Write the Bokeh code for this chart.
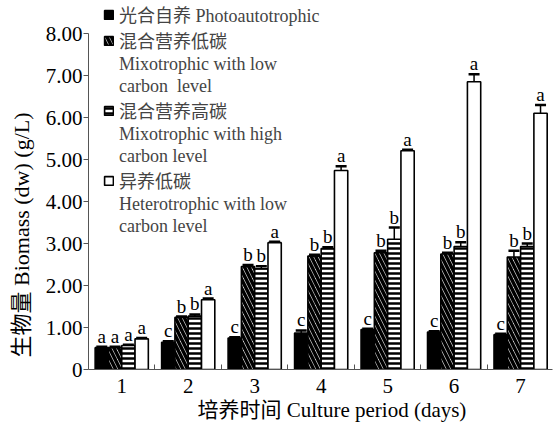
from bokeh.plotting import figure
from bokeh.models import (ColumnDataSource, FixedTicker, Whisker, TeeHead, Legend,
                          LegendItem, LabelSet, Title)
from bokeh.embed import file_html
from bokeh.resources import INLINE

days = [1, 2, 3, 4, 5, 6, 7]
day_labels = ["1", "2", "3", "4", "5", "6", "7"]

photo = [0.52, 0.65, 0.75, 0.87, 0.95, 0.89, 0.83]
photo_err = [0.02, 0.02, 0.02, 0.06, 0.02, 0.02, 0.02]
photo_sig = ["a", "c", "c", "c", "c", "c", "c"]

mixo_low = [0.52, 1.24, 2.45, 2.70, 2.78, 2.75, 2.68]
mixo_low_err = [0.02, 0.02, 0.04, 0.03, 0.05, 0.03, 0.15]
mixo_low_sig = ["a", "b", "b", "b", "b", "b", "b"]

mixo_high = [0.57, 1.27, 2.40, 2.88, 3.10, 2.93, 2.93]
mixo_high_err = [0.02, 0.04, 0.06, 0.03, 0.28, 0.10, 0.07]
mixo_high_sig = ["a", "b", "b", "b", "b", "b", "b"]

hetero = [0.73, 1.66, 3.02, 4.74, 5.21, 6.85, 6.10]
hetero_err = [0.02, 0.03, 0.02, 0.10, 0.02, 0.18, 0.20]
hetero_sig = ["a", "a", "a", "a", "a", "a", "a"]

y_ticks = [0, 1, 2, 3, 4, 5, 6, 7, 8]
y_tick_labels = ["0", "1.00", "2.00", "3.00", "4.00", "5.00", "6.00", "7.00", "8.00"]

legend_lines = [
    ["光合自养 Photoautotrophic"],
    ["混合营养低碳", "Mixotrophic with low", "carbon  level"],
    ["混合营养高碳", "Mixotrophic with high", "carbon level"],
    ["异养低碳", "Heterotrophic with low", "carbon level"],
]
x_title = "培养时间 Culture period (days)"
y_title = "生物量 Biomass (dw) (g/L)"

SERIF = "Liberation Serif, Noto Sans CJK SC"

# frame reaches the top of the canvas so the legend is not clipped;
# the value axis itself is bounded to 0..8
p = figure(width=557, height=426, output_backend="svg", toolbar_location=None,
           x_range=(0.5, 7.48), y_range=(0, 8.786),
           min_border_left=88, min_border_right=5, min_border_top=0, min_border_bottom=57)
p.outline_line_color = None
p.grid.grid_line_color = None
p.background_fill_color = "white"

series = [
    (photo, photo_err, photo_sig, -0.3, dict(fill_color="black")),
    (mixo_low, mixo_low_err, mixo_low_sig, -0.1,
     dict(fill_color="white", hatch_pattern="\\", hatch_color="black", hatch_scale=9, hatch_weight=3.5)),
    (mixo_high, mixo_high_err, mixo_high_sig, 0.1,
     dict(fill_color="white", hatch_pattern="-", hatch_color="black", hatch_scale=5, hatch_weight=2.5)),
    (hetero, hetero_err, hetero_sig, 0.3, dict(fill_color="white")),
]

bar_renderers = []
for vals, errs, sigs, off, style in series:
    src = ColumnDataSource(dict(
        x=[d + off for d in days],
        top=vals,
        upper=[v + e for v, e in zip(vals, errs)],
        lower=[v - e for v, e in zip(vals, errs)],
        sig=sigs,
    ))
    r = p.vbar(x="x", top="top", width=0.2, source=src, line_color="black", line_width=1.6, **style)
    bar_renderers.append(r)
    w = Whisker(base="x", upper="upper", lower="lower", source=src,
                line_color="black", line_width=1.5,
                upper_head=TeeHead(size=11, line_width=2.5, line_color="black"),
                lower_head=TeeHead(size=11, line_width=1.5, line_color="black"))
    p.add_layout(w)
    lbl = LabelSet(x="x", y="upper", text="sig", source=src, text_align="center",
                   text_baseline="alphabetic", y_offset=4, text_font=SERIF,
                   text_font_size="19px", text_color="black")
    p.add_layout(lbl)

# legend (continuation lines use a blank glyph)
blank = p.vbar(x=[], top=[], width=0.2, fill_alpha=0, line_alpha=0)
items = []
for r, lines in zip(bar_renderers, legend_lines):
    items.append(LegendItem(label=lines[0], renderers=[r]))
    for extra in lines[1:]:
        items.append(LegendItem(label=extra, renderers=[blank]))
legend = Legend(items=items, location=(15, 132), padding=0, margin=0, spacing=0,
                label_height=22, glyph_height=11, glyph_width=11, label_standoff=5,
                label_text_font=SERIF, label_text_font_size="18px",
                background_fill_alpha=0, border_line_color=None)
p.add_layout(legend, "center")

# axes
p.yaxis.ticker = FixedTicker(ticks=y_ticks)
p.yaxis.major_label_overrides = {t: s for t, s in zip(y_ticks, y_tick_labels)}
p.yaxis.bounds = (0, 8)
p.yaxis.major_tick_in = 0
p.yaxis.major_tick_out = 5
p.yaxis.major_label_standoff = 1

p.xaxis.ticker = FixedTicker(ticks=days, minor_ticks=[d + 0.5 for d in days[:-1]])
p.xaxis.major_label_overrides = {d: s for d, s in zip(days, day_labels)}
p.xaxis.minor_tick_in = 5
p.xaxis.minor_tick_out = 0
p.xaxis.major_label_standoff = 3

for ax in (p.xaxis, p.yaxis):
    ax.axis_line_color = "#555555"
    ax.axis_line_width = 1
    ax.major_label_text_font = SERIF
    ax.major_label_text_font_size = "21px"
    ax.major_label_text_color = "black"
p.yaxis.major_tick_line_color = "#555555"
p.yaxis.minor_tick_line_color = None
p.xaxis.major_tick_line_color = None
p.xaxis.minor_tick_line_color = "#555555"

# axis titles as side titles, so that they can be offset like the reference
p.add_layout(Title(text=x_title, align="left", offset=109, vertical_align="top", standoff=4,
                   text_font=SERIF, text_font_size="21px", text_font_style="normal",
                   text_color="black"), "below")
p.add_layout(Title(text=y_title, align="left", offset=12, vertical_align="top", standoff=14,
                   text_font=SERIF, text_font_size="22px", text_font_style="normal",
                   text_color="black"), "left")

open("out.html", "w").write(file_html(p, INLINE))
